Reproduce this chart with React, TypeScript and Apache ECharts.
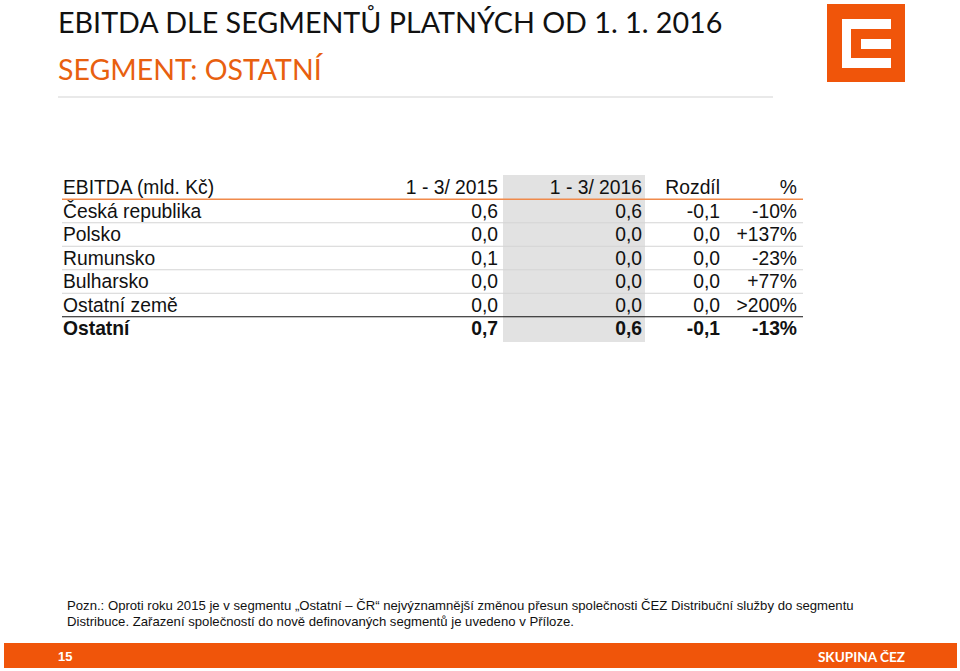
import React, { useEffect, useRef } from "react";
import * as echarts from "echarts";

const headers = ["EBITDA (mld. Kč)", "1 - 3/ 2015", "1 - 3/ 2016", "Rozdíl", "%"];
const rowLabels = ["Česká republika", "Polsko", "Rumunsko", "Bulharsko", "Ostatní země"];
const values2015 = ["0,6", "0,0", "0,1", "0,0", "0,0"];
const values2016 = ["0,6", "0,0", "0,0", "0,0", "0,0"];
const diffs = ["-0,1", "0,0", "0,0", "0,0", "0,0"];
const pcts = ["-10%", "+137%", "-23%", "+77%", ">200%"];
const totalRow = ["Ostatní", "0,7", "0,6", "-0,1", "-13%"];

const titleLine1 = "EBITDA DLE SEGMENTŮ PLATNÝCH OD 1. 1. 2016";
const titleLine2 = "SEGMENT: OSTATNÍ";
const noteLines = [
  "Pozn.: Oproti roku 2015 je v segmentu „Ostatní – ČR“ nejvýznamnější změnou přesun společnosti ČEZ Distribuční služby do segmentu",
  "Distribuce. Zařazení společností do nově definovaných segmentů je uvedeno v Příloze.",
];
const pageNumber = "15";
const brand = "SKUPINA ČEZ";

const ORANGE = "#F0550A";
const FONT = "'Liberation Sans', Arial, sans-serif";
const TITLE_FONT = "Lato, 'Noto Sans', sans-serif";

export default function App() {
  const ref = useRef<HTMLDivElement>(null);
  useEffect(() => {
    if (!ref.current) return;
    const chart = echarts.init(ref.current, null, { renderer: "svg" });
    const els: any[] = [];

    // Title
    els.push({ type: "text", x: 58, y: 22, style: { text: titleLine1, fill: "#111", font: `28.7px ${TITLE_FONT}`, verticalAlign: "middle" } });
    els.push({ type: "text", x: 58, y: 69, style: { text: titleLine2, fill: "#E8600F", font: `28.5px ${TITLE_FONT}`, verticalAlign: "middle" } });
    els.push({ type: "line", shape: { x1: 58, y1: 97, x2: 773, y2: 97 }, style: { stroke: "#E2E2E2", lineWidth: 1.5 } });

    // Logo
    els.push({ type: "rect", shape: { x: 827, y: 4, width: 78, height: 78 }, style: { fill: ORANGE } });
    els.push({ type: "rect", shape: { x: 842, y: 19, width: 49, height: 49 }, style: { fill: "#fff" } });
    els.push({ type: "rect", shape: { x: 851, y: 29, width: 40, height: 29 }, style: { fill: ORANGE } });
    els.push({ type: "rect", shape: { x: 861, y: 39, width: 30, height: 10 }, style: { fill: "#fff" } });

    // Table
    const left = 62;
    const right = 800;
    const colRights = [498, 642, 720, 797];
    const y0 = 187.5;
    const step = 23.5;
    els.push({ type: "rect", shape: { x: 503, y: 175, width: 142, height: 167 }, style: { fill: "#E2E2E2" } });

    const rows: { cells: string[]; bold: boolean }[] = [
      { cells: headers, bold: false },
      ...rowLabels.map((l, i) => ({ cells: [l, values2015[i], values2016[i], diffs[i], pcts[i]], bold: false })),
      { cells: totalRow, bold: true },
    ];
    rows.forEach((r, i) => {
      const y = y0 + i * step;
      r.cells.forEach((c, j) => {
        els.push({
          type: "text",
          x: j === 0 ? left + 1 : colRights[j - 1],
          y,
          style: {
            text: c,
            fill: "#111",
            font: `${r.bold ? "bold " : ""}19.3px ${FONT}`,
            align: j === 0 ? "left" : "right",
            verticalAlign: "middle",
          },
        });
      });
      if (i < rows.length - 1) {
        const ly = y + step / 2;
        let stroke = "#D4D4D4";
        let lw = 1;
        if (i === 0) { stroke = "#F08A4B"; lw = 1.5; }
        if (i === rows.length - 2) { stroke = "#111"; lw = 1.2; }
        els.push({ type: "line", shape: { x1: left, y1: ly, x2: right + 3, y2: ly }, style: { stroke, lineWidth: lw } });
      }
    });

    // Note
    noteLines.forEach((t, i) => {
      els.push({ type: "text", x: 67, y: 605 + i * 16, style: { text: t, fill: "#111", font: `13.15px ${FONT}`, verticalAlign: "middle" } });
    });

    // Footer
    els.push({ type: "rect", shape: { x: 4, y: 643, width: 953, height: 25 }, style: { fill: ORANGE } });
    els.push({ type: "text", x: 58, y: 656, style: { text: pageNumber, fill: "#fff", font: `bold 13px ${FONT}`, verticalAlign: "middle" } });
    els.push({ type: "text", x: 905, y: 657, style: { text: brand, fill: "#fff", font: `bold 13.6px ${TITLE_FONT}`, align: "right", verticalAlign: "middle" } });

    chart.setOption({ animation: false, graphic: { elements: els } });
    return () => chart.dispose();
  }, []);
  return <div ref={ref} style={{ position: "fixed", left: 0, top: 0, width: 960, height: 671, background: "#fff" }} />;
}
